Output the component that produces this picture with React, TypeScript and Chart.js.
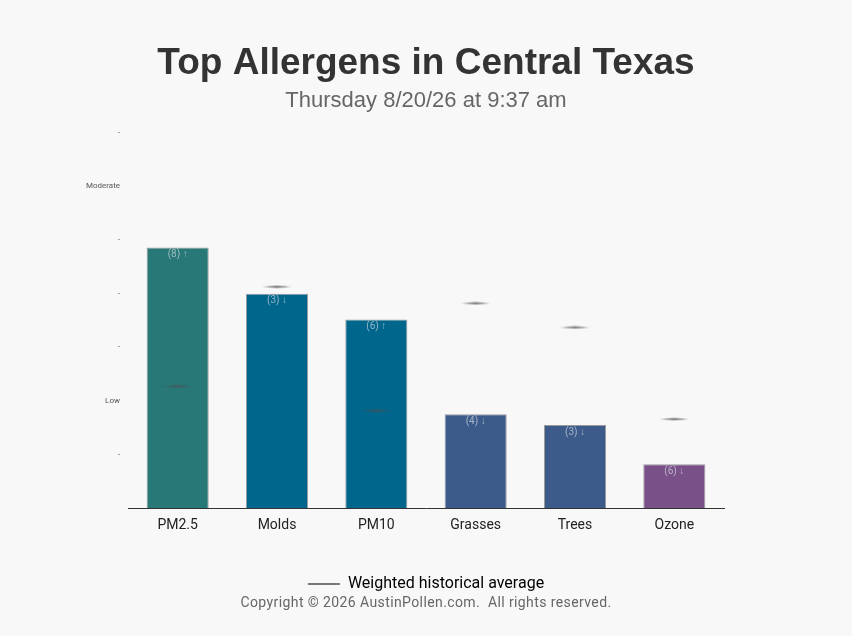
import React, { useEffect, useRef } from "react";
import { Chart, registerables } from "chart.js";

Chart.register(...registerables);

const categories = ["PM2.5", "Molds", "PM10", "Grasses", "Trees", "Ozone"];
const levels = [4.86, 4.0, 3.52, 1.75, 1.55, 0.82];
const averages = [2.27, 4.13, 1.82, 3.82, 3.37, 1.66];
const counts = [8, 3, 6, 4, 3, 6];
const trends = ["↑", "↓", "↑", "↓", "↓", "↓"];
const barColors = ["#287878", "#00668c", "#00668c", "#3c5b8a", "#3c5b8a", "#7a5089"];
const yTickLabels = ["", "-", "Low", "-", "-", "-", "Moderate", "-"];

function makeLens(): HTMLCanvasElement {
  const c = document.createElement("canvas");
  c.width = 32;
  c.height = 4;
  const ctx = c.getContext("2d")!;
  const g = ctx.createLinearGradient(0, 0, 32, 0);
  g.addColorStop(0, "rgba(80,80,80,0.1)");
  g.addColorStop(0.5, "rgba(80,80,80,0.7)");
  g.addColorStop(1, "rgba(80,80,80,0.1)");
  ctx.fillStyle = g;
  ctx.beginPath();
  ctx.moveTo(0, 2);
  ctx.quadraticCurveTo(16, -0.6, 32, 2);
  ctx.quadraticCurveTo(16, 4.6, 0, 2);
  ctx.closePath();
  ctx.fill();
  return c;
}

const barLabelPlugin = {
  id: "barLabels",
  afterDatasetsDraw(chart: any) {
    const meta = chart.getDatasetMeta(1);
    const ctx = chart.ctx;
    ctx.save();
    ctx.font = "10px Roboto, 'Liberation Sans', sans-serif";
    ctx.fillStyle = "rgba(215,222,230,0.68)";
    ctx.textAlign = "center";
    ctx.textBaseline = "middle";
    meta.data.forEach((el: any, i: number) => {
      ctx.fillText(`(${counts[i]}) ${trends[i]}`, el.x, el.y + 7);
    });
    ctx.restore();
  },
  afterDraw(chart: any) {
    const ctx = chart.ctx;
    ctx.save();
    ctx.font = "14px Roboto, 'Liberation Sans', sans-serif";
    ctx.fillStyle = "#666";
    ctx.textAlign = "center";
    ctx.textBaseline = "middle";
    try {
      (ctx as any).letterSpacing = "0.4px";
    } catch (e) {}
    ctx.fillText("Copyright © 2026 AustinPollen.com.  All rights reserved.", chart.width / 2, 603);
    ctx.restore();
  },
};

export default function App() {
  const ref = useRef<HTMLCanvasElement | null>(null);
  useEffect(() => {
    document.body.style.margin = "0";
    document.body.style.background = "#f8f8f8";
    const lens = makeLens();
    const chart = new Chart(ref.current!, {
      type: "bar",
      data: {
        labels: categories,
        datasets: [
          {
            type: "line" as any,
            label: "Weighted historical average",
            data: averages,
            showLine: false,
            pointStyle: lens as any,
            pointRadius: 16,
            order: 0,
          } as any,
          {
            type: "bar",
            label: "Level",
            data: levels,
            backgroundColor: barColors,
            borderColor: "#9a9a9a",
            borderWidth: 1,
            barPercentage: 0.625,
            categoryPercentage: 1,
            order: 1,
          },
        ],
      },
      options: {
        animation: false,
        responsive: false,
        layout: { padding: { left: 0, right: 0, top: 0, bottom: 34 } },
        plugins: {
          title: {
            display: true,
            text: "Top Allergens in Central Texas",
            color: "#333",
            font: { family: "'Liberation Sans', Arial, sans-serif", size: 37, weight: "bold" },
            padding: { top: 42, bottom: 1 },
          },
          subtitle: {
            display: true,
            text: "Thursday 8/20/26 at 9:37 am",
            color: "#666",
            font: { family: "'Liberation Sans', Arial, sans-serif", size: 22 },
            padding: { top: 0, bottom: 19 },
          },
          legend: {
            display: true,
            position: "bottom",
            labels: {
              color: "#222",
              font: { family: "Roboto, 'Liberation Sans', sans-serif", size: 16 },
              boxWidth: 32,
              boxHeight: 2,
              padding: 33,
              generateLabels: () => [
                {
                  text: "Weighted historical average",
                  fillStyle: "#777",
                  strokeStyle: "#777",
                  lineWidth: 0,
                  hidden: false,
                  datasetIndex: 0,
                } as any,
              ],
            },
          },
          tooltip: { enabled: false },
        },
        scales: {
          x: {
            grid: { display: false, drawTicks: false },
            border: { display: true, color: "#333", width: 1 },
            ticks: {
              color: "#222",
              font: { family: "Roboto, 'Liberation Sans', sans-serif", size: 14 },
              padding: 9,
            },
          },
          y: {
            min: 0,
            max: 7,
            grid: { display: false, drawTicks: false },
            border: { display: false },
            afterFit: (scale: any) => {
              scale.width = 128;
            },
            ticks: {
              stepSize: 1,
              color: "#555",
              font: { family: "Roboto, 'Liberation Sans', sans-serif", size: 8 },
              padding: 8,
              callback: (v: any) => yTickLabels[Math.round(Number(v))] ?? "",
            },
          },
          yRight: {
            position: "right",
            min: 0,
            max: 7,
            grid: { display: false, drawTicks: false },
            border: { display: false },
            ticks: { display: false },
            afterFit: (scale: any) => {
              scale.width = 128;
            },
          },
        },
      },
      plugins: [barLabelPlugin],
    });
    return () => chart.destroy();
  }, []);
  return <canvas ref={ref} width={852} height={636} style={{ display: "block" }} />;
}
